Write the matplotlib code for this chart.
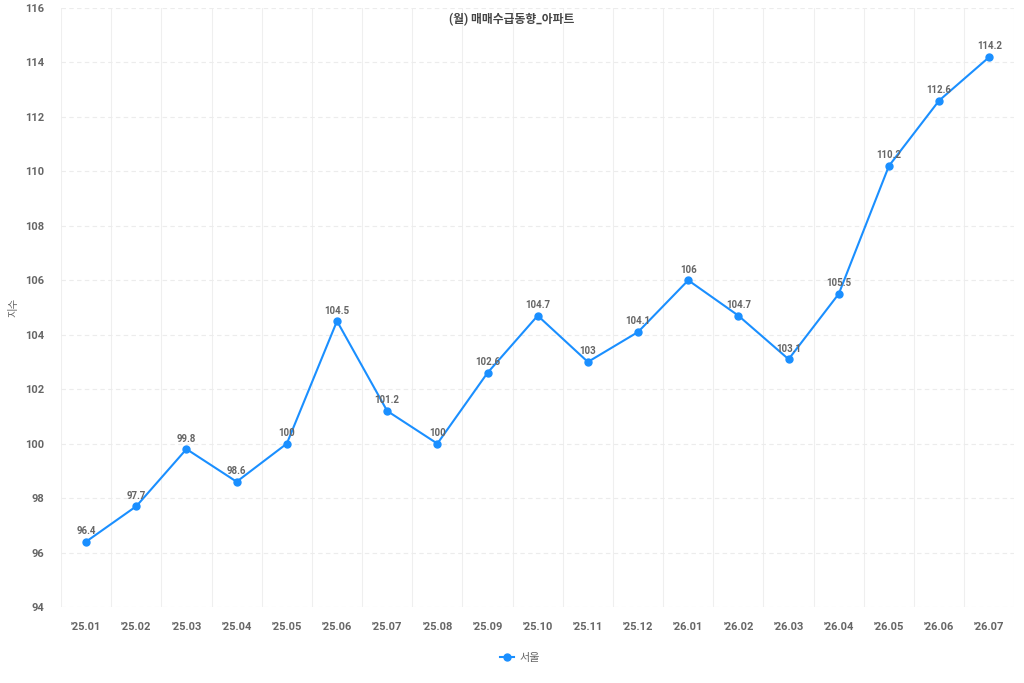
import matplotlib.pyplot as plt
import numpy as np

months = ["'25.01", "'25.02", "'25.03", "'25.04", "'25.05", "'25.06", "'25.07",
          "'25.08", "'25.09", "'25.10", "'25.11", "'25.12", "'26.01", "'26.02",
          "'26.03", "'26.04", "'26.05", "'26.06", "'26.07"]
seoul = [96.4, 97.7, 99.8, 98.6, 100, 104.5, 101.2, 100, 102.6, 104.7, 103,
         104.1, 106, 104.7, 103.1, 105.5, 110.2, 112.6, 114.2]

plt.rcParams['font.family'] = ['Roboto', 'Noto Sans CJK KR', 'DejaVu Sans']

LINE = '#1a8fff'
TXT = '#666666'

fig = plt.figure(figsize=(10.24, 6.83), dpi=100)
ax = fig.add_axes([0.0596, 0.1113, 0.931, 0.877])

x = np.arange(len(months))
ax.plot(x, seoul, color=LINE, lw=1.5, marker='o', ms=5, label='서울', zorder=3)
for xi, v in zip(x, seoul):
    ax.annotate(f'{v:g}', (xi, v), xytext=(0, 4), textcoords='offset points',
                ha='center', va='bottom', fontsize=7, fontweight='bold', color=TXT)

ax.set_xlim(-0.5, len(months) - 0.5)
ax.set_ylim(94, 116)
ax.set_yticks(np.arange(94, 117, 2))
ax.set_xticks(x)
ax.set_xticklabels(months)
ax.set_xticks(np.arange(-0.5, len(months), 1), minor=True)
ax.tick_params(axis='both', which='both', length=0, labelsize=8, colors=TXT, pad=11)
for lbl in ax.get_xticklabels() + ax.get_yticklabels():
    lbl.set_fontweight('bold')
ax.tick_params(axis='y', pad=12)

ax.grid(axis='y', which='major', color='#ececec', ls=(0, (4, 3)), lw=0.8)
ax.grid(axis='x', which='minor', color='#efefef', ls='-', lw=0.8)
ax.grid(axis='x', which='major', visible=False)
for s in ax.spines.values():
    s.set_visible(False)

ax.set_ylabel('지수', fontsize=7.5, color=TXT)
ax.yaxis.set_label_coords(-0.045, 0.5)
fig.text(0.5, 0.971, '(월) 매매수급동향_아파트', ha='center', va='center',
         fontsize=8.5, fontweight='bold', color='#444444')

fig.legend(loc='center', bbox_to_anchor=(0.508, 0.037), frameon=False,
           fontsize=8, labelcolor=TXT, handlelength=1.2, handletextpad=0.5)

fig.savefig('out.png', dpi=100)
